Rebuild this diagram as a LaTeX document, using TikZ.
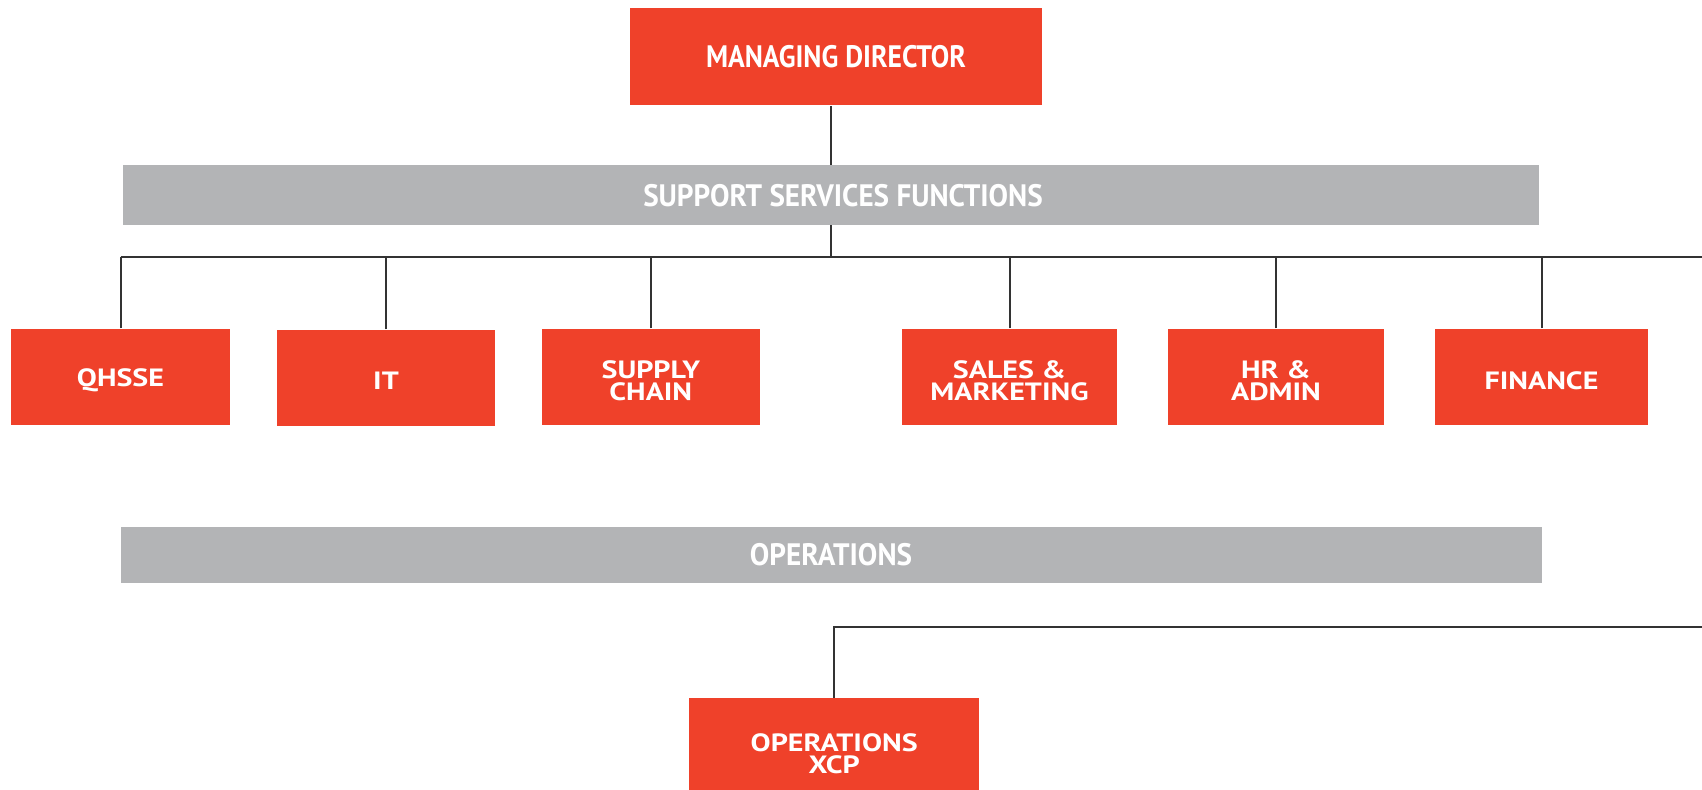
\documentclass[tikz,border=0pt]{standalone}
\usepackage{fontspec}
\newfontfamily\narrowfont{PT Sans}[FakeStretch=0.89]
\newfontfamily\barfont{PT Sans}[FakeStretch=0.94]
\newfontfamily\widefont{PT Sans}[FakeStretch=1.2]
\definecolor{orgred}{RGB}{239,65,42}
\definecolor{bargray}{RGB}{179,180,182}
\definecolor{linegray}{RGB}{51,51,51}
\tikzset{
  redbox/.style={fill=orgred, draw=none, text=white, align=center, inner sep=0pt,
    font=\widefont\bfseries\fontsize{12.5}{11}\selectfont},
  lbl/.style={text=white, align=center, inner sep=0pt, yshift=-1.6pt,
    font=\widefont\bfseries\fontsize{12.5}{11}\selectfont},
  graybar/.style={fill=bargray, draw=none, text=white, inner sep=0pt,
    font=\barfont\bfseries\fontsize{15.5}{15}\selectfont},
  barlbl/.style={text=white, inner sep=0pt,
    font=\barfont\bfseries\fontsize{15.5}{15}\selectfont},
  conn/.style={draw=linegray, line width=1pt}
}
\begin{document}
\begin{tikzpicture}[x=0.5pt,y=-0.5pt]
\useasboundingbox (0,0) rectangle (1702,790);
\clip (0,0) rectangle (1702,790);
% top
\node[redbox, minimum width=206pt, minimum height=48.5pt,
  font=\narrowfont\bfseries\fontsize{15.5}{15}\selectfont] (md) at (836,57) {MANAGING DIRECTOR};
\node[graybar, minimum width=708pt, minimum height=30pt,
  label={[barlbl, xshift=6pt, yshift=-0.5pt]center:SUPPORT SERVICES FUNCTIONS}] (ssf) at (831,195) {};
% support boxes
\node[redbox, minimum width=109.5pt, minimum height=48.3pt, label={[lbl]center:QHSSE}] (qhsse) at (120.5,377.2) {};
\node[redbox, minimum width=109pt, minimum height=48.3pt, label={[lbl]center:IT}] (it) at (386,378) {};
\node[redbox, minimum width=109pt, minimum height=48.3pt, label={[lbl]center:{SUPPLY\\CHAIN}}] (supply) at (650.8,377.2) {};
\node[redbox, minimum width=107.5pt, minimum height=48.3pt, label={[lbl]center:{SALES \&\\MARKETING}}] (sales) at (1009.5,377.2) {};
\node[redbox, minimum width=108pt, minimum height=48.3pt, label={[lbl]center:{HR \&\\ADMIN}}] (hr) at (1276,377.2) {};
\node[redbox, minimum width=106.5pt, minimum height=48.3pt, label={[lbl]center:FINANCE}] (fin) at (1541.5,377.2) {};
% operations
\node[graybar, minimum width=710.5pt, minimum height=28.2pt] (ops) at (831,554.8) {OPERATIONS};
\node[redbox, minimum width=145pt, minimum height=56pt] (xcp) at (834.2,754) {OPERATIONS\\XCP};
% connectors
\coordinate (busL) at (120.5,257.3);
\coordinate (busR) at (1702,257.3);
\coordinate (busM) at (831,257.3);
\draw[conn] (md.south -| ssf.north) -- (ssf.north);
\draw[conn] (ssf.south) -- (busM);
\draw[conn] (busL) -- (busR);
\foreach \n in {qhsse,it,supply,sales,hr,fin}
  \draw[conn] (\n.north) -- (\n.north |- busL);
\coordinate (opsR) at (1702,627.4);
\draw[conn] (xcp.north) -- (xcp.north |- opsR) -- (opsR);
\end{tikzpicture}
\end{document}
